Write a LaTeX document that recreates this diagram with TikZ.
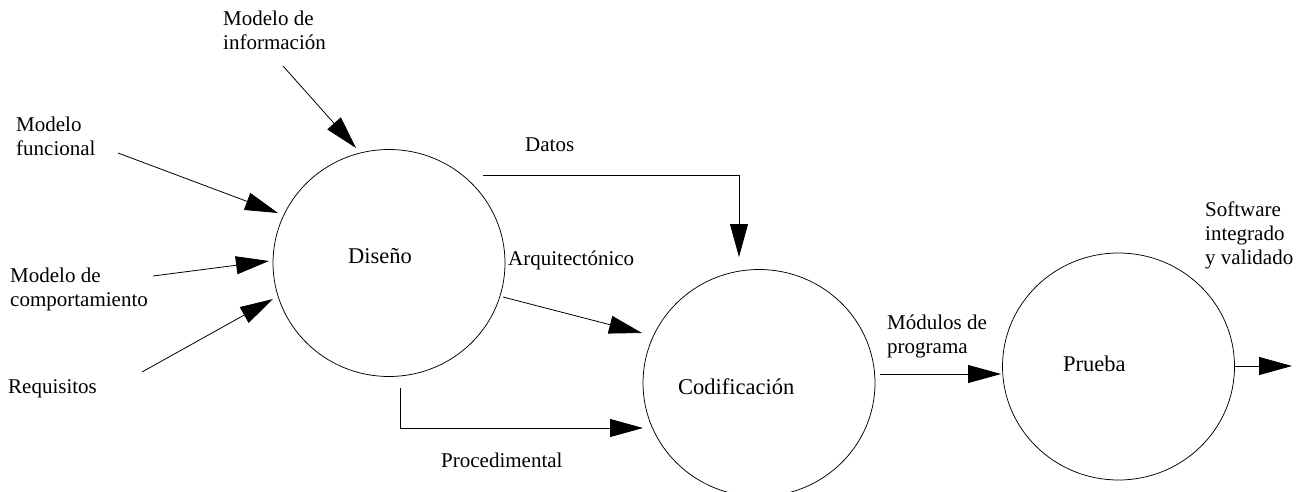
\documentclass[tikz,border=0pt]{standalone}
\usepackage{fontspec}
\setmainfont{Liberation Serif}
\usetikzlibrary{arrows.meta,shapes.geometric}

\begin{document}
\begin{tikzpicture}[x=1pt,y=-1pt,
  stage/.style={draw, ellipse, minimum width=232pt, minimum height=227pt,
    inner sep=0pt, line width=0.75pt},
  % multi-line labels are placed by the baseline of their last line
  lbl/.style={anchor=base west, inner sep=0pt, align=left,
    font=\fontsize{21}{24}\selectfont},
  stagelbl/.style={anchor=base west, inner sep=0pt,
    font=\fontsize{22.5}{26}\selectfont},
  flow/.style={line width=0.8pt, -{Triangle[length=33pt,width=18pt]}}]
\useasboundingbox (0,0) rectangle (1305,492);

% the three process stages
\node[stage] (dis) at (389,263) {};
\node[stage] (cod) at (759,383) {};
\node[stage] (pru) at (1118.5,366.5) {};

\node[stagelbl] (disT) at (348,263) {Diseño};
\node[stagelbl] (codT) at (678,394) {Codificación};
\node[stagelbl] (pruT) at (1063,371) {Prueba};

% input models
\node[lbl] (info) at (223,50) {Modelo de\\información};
\node[lbl] (func) at (16,155) {Modelo\\funcional};
\node[lbl] (comp) at (10,306) {Modelo de\\comportamiento};
\node[lbl] (req)  at (8,393) {Requisitos};

% flow labels
\node[lbl] (datos) at (525,151) {Datos};
\node[lbl] (arq)   at (508,265) {Arquitectónico};
\node[lbl] (proc)  at (441,467) {Procedimental};
\node[lbl] (mod)   at (887,353) {Módulos de\\programa};
\node[lbl] (soft)  at (1205,264) {Software\\integrado\\y validado};

% connector end points
\coordinate (infoS) at (283,66);   \coordinate (infoE) at (356,148);
\coordinate (funcS) at (118,153);  \coordinate (funcE) at (278,213);
\coordinate (compS) at (153,276);  \coordinate (compE) at (269,261);
\coordinate (reqS)  at (142,372);  \coordinate (reqE)  at (273,299);
\coordinate (datS)  at (483,175);  \coordinate (datE)  at (739,257);
\coordinate (arqS)  at (503,297);  \coordinate (arqE)  at (642,333);
\coordinate (procS) at (400,388);  \coordinate (procE) at (643,428);
\coordinate (modS)  at (880,374);  \coordinate (modE)  at (1001,374);
\coordinate (softS) at (1235,366); \coordinate (softE) at (1292,366);

\draw[flow] (infoS) -- (infoE);
\draw[flow] (funcS) -- (funcE);
\draw[flow] (compS) -- (compE);
\draw[flow] (reqS) -- (reqE);
\draw[flow] (datS) -| (datE);
\draw[flow] (arqS) -- (arqE);
\draw[flow] (procS) |- (procE);
\draw[flow] (modS) -- (modE);
\draw[flow] (softS) -- (softE);
\end{tikzpicture}
\end{document}
